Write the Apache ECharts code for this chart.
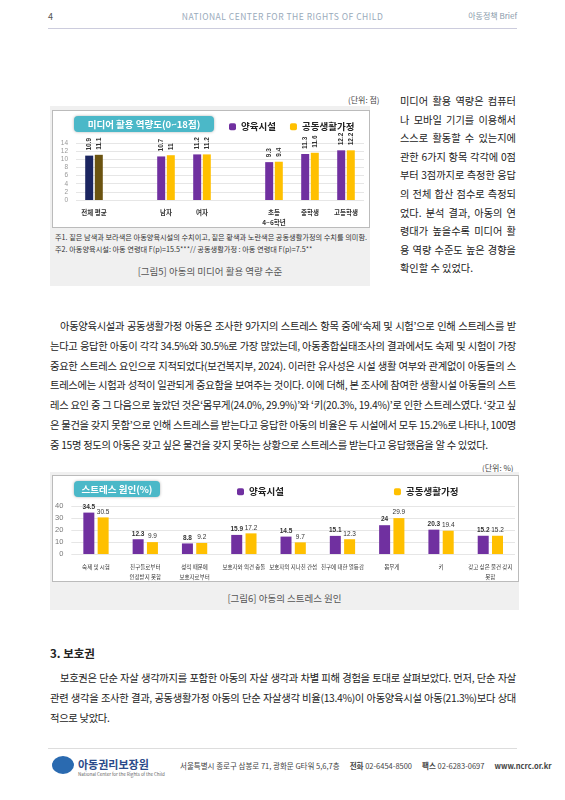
<!DOCTYPE html>
<html><head><meta charset="utf-8">
<script src="https://cdn.jsdelivr.net/npm/echarts@6/dist/echarts.min.js"></script>
<style>
body{margin:0;width:565px;height:800px;position:relative;background:#fff;font-family:"Noto Sans CJK KR","Noto Sans",sans-serif;color:#222;overflow:hidden}
.a{position:absolute}
.p{font-size:10.3px;line-height:19.8px;text-align:justify;text-align-last:left;word-break:break-all;letter-spacing:-0.3px}
.gray{background:#f0f0f0}
.box{background:#fff;border:1px solid #bbb}
</style></head><body>
<div class="a" style="left:48px;top:10px;font-size:9px;color:#555">4</div>
<div class="a" style="left:0;width:565px;top:10px;text-align:center;font-size:8.5px;color:#9ab;letter-spacing:0.5px">NATIONAL CENTER FOR THE RIGHTS OF CHILD</div>
<div class="a" style="right:48px;top:10px;font-size:8px;color:#89a">아동정책 Brief</div>
<div class="a" style="left:48px;width:469px;top:28px;border-top:1px solid #ccd"></div>

<div class="a" style="left:348px;top:94px;font-size:8px;color:#444">(단위: 점)</div>
<div class="a gray" style="left:50px;top:106px;width:320px;height:180px"></div>
<div class="a box" style="left:52px;top:110px;width:316px;height:116px"></div>
<div id="c1" class="a" style="left:52px;top:110px;width:318px;height:118px"></div>
<div class="a" style="left:55px;top:231px;font-size:7.2px;line-height:12px;color:#333">주1. 짙은 남색과 보라색은 아동양육시설의 수치이고, 짙은 황색과 노란색은 공동생활가정의 수치를 의미함.<br>주2. 아동양육시설: 아동 연령대 F(p)=15.5***// 공동생활가정 : 아동 연령대 F(p)=7.5**</div>
<div class="a" style="left:50px;width:320px;top:264px;text-align:center;font-size:9.5px;color:#555">[그림5] 아동의 미디어 활용 역량 수준</div>

<div class="a p" style="left:400px;top:92px;width:116px;font-size:10.2px;line-height:18.6px;letter-spacing:0">미디어 활용 역량은 컴퓨터나 모바일 기기를 이용해서 스스로 활동할 수 있는지에 관한 6가지 항목 각각에 0점부터 3점까지로 측정한 응답의 전체 합산 점수로 측정되었다. 분석 결과, 아동의 연령대가 높을수록 미디어 활용 역량 수준도 높은 경향을 확인할 수 있었다.</div>

<div class="a p" style="left:50px;top:316px;width:466px;text-indent:10px">아동양육시설과 공동생활가정 아동은 조사한 9가지의 스트레스 항목 중에‘숙제 및 시험’으로 인해 스트레스를 받는다고 응답한 아동이 각각 34.5%와 30.5%로 가장 많았는데, 아동종합실태조사의 결과에서도 숙제 및 시험이 가장 중요한 스트레스 요인으로 지적되었다(보건복지부, 2024). 이러한 유사성은 시설 생활 여부와 관계없이 아동들의 스트레스에는 시험과 성적이 일관되게 중요함을 보여주는 것이다. 이에 더해, 본 조사에 참여한 생활시설 아동들의 스트레스 요인 중 그 다음으로 높았던 것은‘몸무게(24.0%, 29.9%)’와 ‘키(20.3%, 19.4%)’로 인한 스트레스였다. ‘갖고 싶은 물건을 갖지 못함’으로 인해 스트레스를 받는다고 응답한 아동의 비율은 두 시설에서 모두 15.2%로 나타나, 100명 중 15명 정도의 아동은 갖고 싶은 물건을 갖지 못하는 상황으로 스트레스를 받는다고 응답했음을 알 수 있었다.</div>

<div class="a" style="left:482px;top:462px;font-size:8px;color:#444">(단위: %)</div>
<div class="a gray" style="left:50px;top:472px;width:469px;height:138px"></div>
<div class="a box" style="left:52px;top:475px;width:465px;height:105px"></div>
<div id="c2" class="a" style="left:52px;top:475px;width:467px;height:107px"></div>
<div class="a" style="left:50px;width:469px;top:591px;text-align:center;font-size:9.5px;color:#555">[그림6] 아동의 스트레스 원인</div>

<div class="a" style="left:50px;top:645px;font-size:11.5px;font-weight:bold">3. 보호권</div>
<div class="a p" style="left:50px;top:668px;width:466px;text-indent:10px">보호권은 단순 자살 생각까지를 포함한 아동의 자살 생각과 차별 피해 경험을 토대로 살펴보았다. 먼저, 단순 자살 관련 생각을 조사한 결과, 공동생활가정 아동의 단순 자살생각 비율(13.4%)이 아동양육시설 아동(21.3%)보다 상대적으로 낮았다.</div>

<div class="a" style="left:48px;width:469px;top:748px;border-top:1px solid #ddd"></div>
<div class="a" style="left:52px;top:756px;width:22px;height:18px;border-radius:50%;background:#2a6ab0"></div>
<div class="a" style="left:78px;top:756px;font-size:11px;font-weight:bold;color:#2a4a8a">아동권리보장원</div>
<div class="a" style="left:78px;top:771px;font-size:4.5px;color:#666">National Center for the Rights of the Child</div>
<div class="a" style="left:180px;top:760px;font-size:7.5px;color:#444">서울특별시 종로구 삼봉로 71, 광화문 G타워 5,6,7층&nbsp;&nbsp;&nbsp;&nbsp;&nbsp;&nbsp;<b>전화</b> 02-6454-8500&nbsp;&nbsp;&nbsp;&nbsp;&nbsp;&nbsp;<b>팩스</b> 02-6283-0697&nbsp;&nbsp;&nbsp;&nbsp;&nbsp;&nbsp;<b>www.ncrc.or.kr</b></div>

<script>
const cats1=['전체 평균','','남자','여자','','초등\n4~6학년','중학생','고등학생'];
const fac1=[10.9,null,10.7,11.2,null,9.3,11.3,12.2];
const grp1=[11.1,null,11,11.2,null,9.4,11.6,12.2];
const yTicks1=[0,14,2];
const cats2=['숙제 및 시험','친구들로부터\n인정받지 못함','성적 때문에\n보호자로부터','보호자와 의견 충돌','보호자의 지나친 간섭','친구에 대한 열등감','몸무게','키','갖고 싶은 물건 갖지\n못함'];
const fac2=[34.5,12.3,8.8,15.9,14.5,15.1,24,20.3,15.2];
const grp2=[30.5,9.9,9.2,17.2,9.7,12.3,29.9,19.4,15.2];
const PUR='#7030a0',YEL='#ffc000';
const ff='"Noto Sans CJK KR",sans-serif';
function titleGraphic(t,w){return [{type:'group',left:22,top:6,children:[
 {type:'rect',shape:{x:0,y:0,width:w,height:16,r:4},style:{fill:'#4bb8c8',shadowBlur:3,shadowColor:'rgba(0,0,0,0.3)'}},
 {type:'text',x:w/2,y:8,style:{text:t,fill:'#fff',font:'bold 9.5px '+ff,textAlign:'center',textVerticalAlign:'middle'}}]}];}

const c1=echarts.init(document.getElementById('c1'));
c1.setOption({animation:false,
 graphic:titleGraphic('미디어 활용 역량도(0~18점)',140),
 legend:{top:7,left:172,itemWidth:7,itemHeight:7,itemGap:14,textStyle:{fontSize:9.5,fontWeight:'bold',fontFamily:ff,color:'#222'},data:[{name:'양육시설',itemStyle:{color:PUR}},{name:'공동생활가정',itemStyle:{color:YEL}}]},
 grid:{left:24,right:6,top:33,bottom:23},
 xAxis:{type:'category',data:cats1,axisLine:{show:false},axisTick:{show:false},axisLabel:{fontSize:6.5,fontWeight:'bold',color:'#333',interval:0,lineHeight:10,fontFamily:ff}},
 yAxis:{type:'value',min:yTicks1[0],max:yTicks1[1],interval:yTicks1[2],axisLabel:{fontSize:6.5,lineHeight:7,color:'#999',showMinLabel:true,showMaxLabel:true,hideOverlap:false},splitLine:{lineStyle:{color:'#e6e6e6'}}},
 series:[
  {name:'양육시설',type:'bar',barWidth:8,barGap:'20%',data:fac1.map((v,i)=>({value:v,itemStyle:{color:i===0?'#1b2560':PUR}})),label:{show:true,position:'top',rotate:90,align:'left',verticalAlign:'middle',fontSize:6.5,fontWeight:'bold',color:'#333'}},
  {name:'공동생활가정',type:'bar',barWidth:8,data:grp1.map((v,i)=>({value:v,itemStyle:{color:i===0?'#6b5310':YEL}})),label:{show:true,position:'top',rotate:90,align:'left',verticalAlign:'middle',fontSize:6.5,fontWeight:'bold',color:'#333'}}
 ]});

const c2=echarts.init(document.getElementById('c2'));
c2.setOption({animation:false,
 graphic:titleGraphic('스트레스 원인(%)',86),
 legend:{top:7,left:180,itemWidth:7,itemHeight:7,itemGap:110,textStyle:{fontSize:9.5,fontWeight:'bold',fontFamily:ff,color:'#222'},data:[{name:'양육시설',itemStyle:{color:PUR}},{name:'공동생활가정',itemStyle:{color:YEL}}]},
 grid:{left:16,right:4,top:31,bottom:28},
 xAxis:{type:'category',data:cats2,axisLine:{show:false},axisTick:{show:false},axisLabel:{fontSize:5.5,color:'#333',interval:0,lineHeight:10,fontFamily:ff}},
 yAxis:{type:'value',min:0,max:40,interval:10,axisLabel:{fontSize:7.5,color:'#777'},splitLine:{lineStyle:{color:'#e6e6e6'}}},
 series:[
  {name:'양육시설',type:'bar',barWidth:11,barGap:'30%',itemStyle:{color:PUR},data:fac2,label:{show:true,position:'top',fontSize:6.5,fontWeight:'bold',color:'#333',distance:2}},
  {name:'공동생활가정',type:'bar',barWidth:11,itemStyle:{color:YEL},data:grp2,label:{show:true,position:'top',fontSize:6.5,color:'#333',distance:2}}
 ]});
</script>
</body></html>
